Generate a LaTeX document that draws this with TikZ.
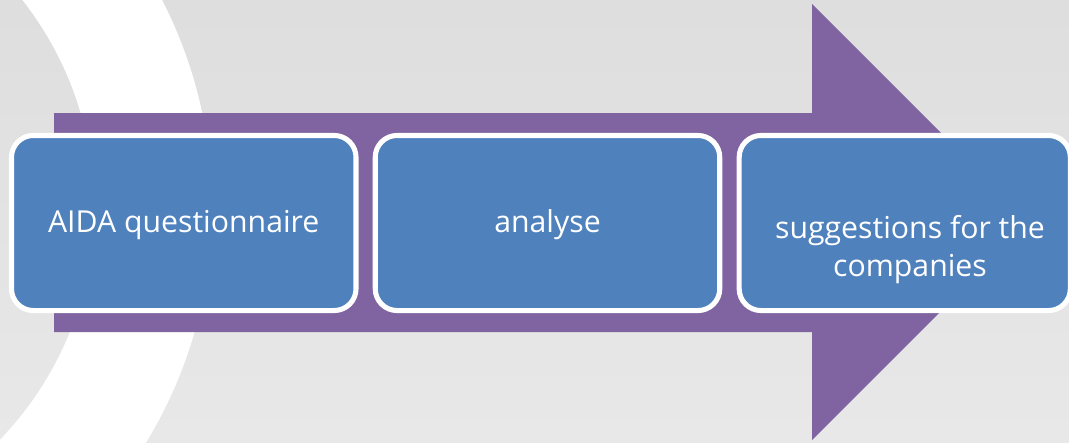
\documentclass[tikz,border=0pt]{standalone}
\usepackage{fontspec}
\setmainfont{Open Sans}
\usepackage{tikz}
\definecolor{arrowpurple}{HTML}{8064A2}
\definecolor{boxblue}{HTML}{4F81BD}
\tikzstyle{stepbox}=[draw=white,fill=boxblue,line width=3.6pt,rounded corners=15.5pt,minimum width=245pt,minimum height=124.5pt,inner sep=0pt]
\tikzstyle{steptext}=[text=white,inner sep=0pt,align=center,font=\fontsize{21.5}{27}\selectfont]

\begin{document}
\begin{tikzpicture}[x=0.025cm,y=-0.025cm]

      \useasboundingbox (0,0) rectangle (1069,442);
      \clip (0,0) rectangle (1069,442);
      \shade[top color=black!13,bottom color=black!9] (0,0) rectangle (1069,442);
      \fill[white,even odd rule] (-241,207) circle (453) (-241,207) circle (335);

      \fill[arrowpurple] (54,113) -- (812,113) -- (812,4) -- (1030,222)
        -- (812,440) -- (812,332) -- (54,332) -- cycle;

      \node[stepbox] (q) at (183.75,223) {};
      \node[stepbox] (an) at (547.5,223) {};
      \node[stepbox,minimum width=235.5pt] (sg) at (904.75,223) {};

      \node[steptext,anchor=base] (qt) at (183.75,232) {AIDA questionnaire};
      \node[steptext,anchor=base] (ant) at (547.5,232) {analyse};
      \node[steptext] (sgt) at (910,249.5) {suggestions for the\\companies};

    \end{tikzpicture}
\end{document}
